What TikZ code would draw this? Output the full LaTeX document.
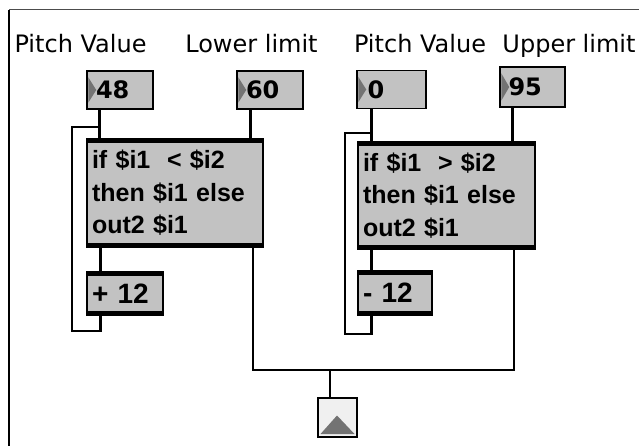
\documentclass[tikz,border=0pt]{standalone}
\usepackage{fontspec}
\usepackage{tikz}
\newfontfamily\patchfont{DejaVu Sans}
\newfontfamily\objfont{Liberation Sans}
\definecolor{PatchGrey}{gray}{0.76}
\definecolor{FlagGrey}{gray}{0.45}

\tikzset{
  cord/.style={line width=2.5pt},
  numbox/.style={draw, line width=1.5pt, fill=PatchGrey, minimum width=66pt, minimum height=38pt,
    inner xsep=0pt, text width=48pt, align=left, font=\patchfont\bfseries\fontsize{24}{28}\selectfont},
  objbox/.style={draw, line width=1.5pt, fill=PatchGrey, inner xsep=5pt, text width=#1, align=left,
    font=\objfont\bfseries\fontsize{25}{32.5}\selectfont},
  mathbox/.style={objbox=#1, font=\objfont\bfseries\fontsize{28}{32}\selectfont},
  patchlabel/.style={anchor=base, font=\patchfont\fontsize{24}{28}\selectfont},
}

\begin{document}
\begin{tikzpicture}[x=1pt, y=-1pt]
        \useasboundingbox (0,0) rectangle (639,446);
        % window frame
        \draw[line width=2pt] (9,446) -- (9,10);
        \draw[black!70, line width=1pt] (9,10) -- (639,10);

        \node[patchlabel] (lblpitchA) at (80.5,53) {Pitch Value};
        \node[patchlabel] (lbllower) at (251.5,53) {Lower limit};
        \node[patchlabel] (lblpitchB) at (420,53) {Pitch Value};
        \node[patchlabel] (lblupper) at (569,53) {Upper limit};

        \node[numbox] (pitchA) at (120,90) {48};
        \node[numbox] (lower) at (270,90) {60};
        \node[numbox, minimum width=69pt] (pitchB) at (391.5,89.5) {0};
        \node[numbox, minimum width=65pt, minimum height=40pt] (upper) at (532.5,87) {95};

        \node[objbox=166pt, minimum height=108pt] (condA) at (175,193) {if \$i1 \ < \$i2\\then \$i1 else\\out2 \$i1};
        \node[objbox=167pt, minimum height=107pt] (condB) at (446.5,195.5) {if \$i1 \ > \$i2\\then \$i1 else\\out2 \$i1};
        \node[mathbox=66pt, minimum height=43pt] (plus) at (125,293.5) {+ 12};
        \node[mathbox=64pt, minimum height=44pt] (minus) at (395,293) {- 12};

        \node[draw, line width=2pt, fill=gray!12, minimum size=39pt, inner sep=0pt] (outlet) at (337,417.5) {};
        \fill[FlagGrey] ([xshift=4pt,yshift=4pt]outlet.south west) -- ([yshift=2pt]outlet.center)
            -- ([xshift=-3pt,yshift=4pt]outlet.south east) -- cycle;

        % inlet and outlet bars
        \foreach \obj in {condA,condB,plus,minus} {
            \fill (\obj.north west) rectangle ([yshift=-5pt]\obj.north east);
            \fill (\obj.south west) rectangle ([yshift=5pt]\obj.south east);
        }
        % number box flags
        \foreach \num in {pitchA,lower,pitchB,upper}
            \fill[FlagGrey] ([xshift=2pt,yshift=-7pt]\num.north west) -- ([xshift=10pt]\num.west)
                -- ([xshift=2pt,yshift=7pt]\num.south west) -- cycle;

        \coordinate (loopA) at (72,127);
        \coordinate (loopB) at (345,133);
        \coordinate (merge) at (330,370);

        % patch cords
        \draw[cord] ([xshift=13pt]pitchA.south west) |- ([xshift=13pt]condA.north west);
        \draw[cord] ([xshift=14pt]lower.south west) |- ([xshift=-12pt]condA.north east);
        \draw[cord] ([xshift=14pt]condA.south west) |- ([xshift=14pt]plus.north west);
        \draw[cord] ([xshift=14pt]plus.south west) -- ++(0,15) -| (loopA) -| ([xshift=13pt]condA.north west);
        \draw[cord] ([xshift=15pt]pitchB.south west) |- ([xshift=14pt]condB.north west);
        \draw[cord] ([xshift=13pt]upper.south west) |- ([xshift=-22pt]condB.north east);
        \draw[cord] ([xshift=14pt]condB.south west) |- ([xshift=14pt]minus.north west);
        \draw[cord] ([xshift=14pt]minus.south west) -- ++(0,18) -| (loopB) -| ([xshift=14pt]condB.north west);
        \draw[cord] ([xshift=-11pt]condA.south east) |- (merge) -| ([xshift=-22pt]condB.south east);
        \draw[cord] (merge) |- ([xshift=13pt]outlet.north west);
    \end{tikzpicture}
\end{document}
